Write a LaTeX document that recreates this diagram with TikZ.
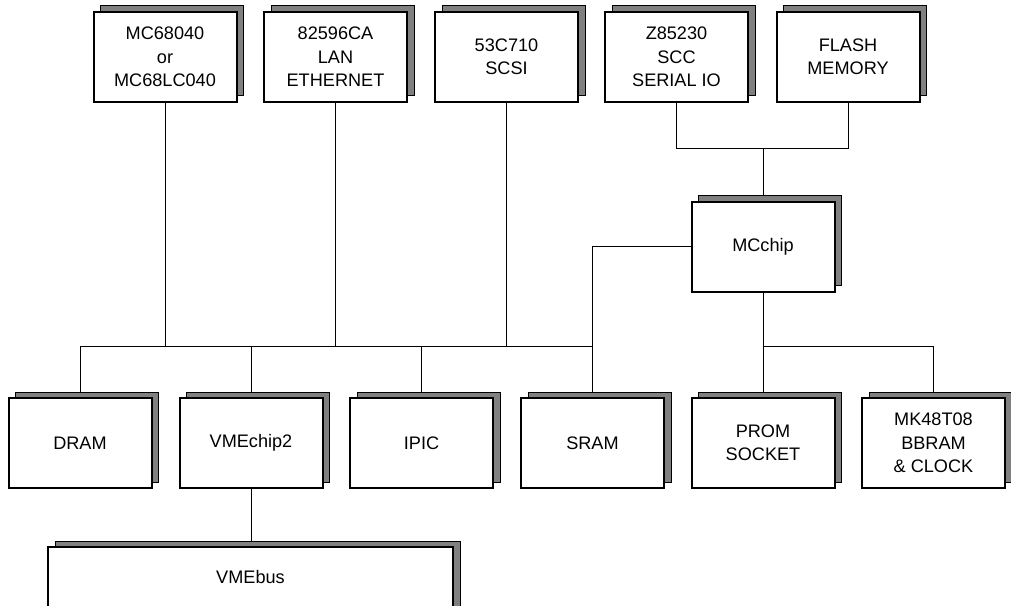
\documentclass[tikz,border=0pt]{standalone}
\usepackage{fontspec}
\setmainfont{Liberation Sans}
\usetikzlibrary{shadows,backgrounds}
\definecolor{shadowgray}{HTML}{808080}
\begin{document}
\begin{tikzpicture}[x=0.75pt,y=-0.75pt,
  blk/.style={draw=black, line width=1.5pt, fill=white,
    minimum width=107.25pt, minimum height=67.5pt, inner sep=0pt,
    align=center, font=\fontsize{13.6}{17.6}\selectfont,
    general shadow={shadow xshift=5.25pt, shadow yshift=4.5pt,
      fill=shadowgray, draw=black, line width=0.75pt}},
  wire/.style={draw=black, line width=0.75pt}]
\useasboundingbox (0,0) rectangle (1011,606);
\clip (0,0) rectangle (1011,606);
% top row
\node[blk] (cpu)   at (165,57)   {MC68040\\or\\MC68LC040};
\node[blk] (lan)   at (335.5,57) {82596CA\\LAN\\ETHERNET};
\node[blk] (scsi)  at (506.5,57) {53C710\\SCSI};
\node[blk] (scc)   at (676.5,57) {Z85230\\SCC\\SERIAL IO};
\node[blk] (flash) at (848,57)   {FLASH\\MEMORY};
% MCchip
\node[blk] (mcchip) at (763,247) {MCchip};
% bottom row
\node[blk] (dram)    at (80,443)    {DRAM};
\node[blk] (vmechip) at (251,443)   {VMEchip2};
\node[blk] (ipic)    at (421.5,443) {IPIC};
\node[blk] (sram)    at (592.5,443) {SRAM};
\node[blk] (prom)    at (763,443)   {PROM\\SOCKET};
\node[blk] (mk)      at (933.5,443) {MK48T08\\BBRAM\\\& CLOCK};
% VMEbus
\node[blk, minimum width=303.75pt] (vmebus) at (250.5,592) {};
\node[font=\fontsize{13.6}{17.6}\selectfont] (vmebuslbl) at (250.5,577) {VMEbus};
\coordinate (bus) at (0,346);
\coordinate (tb) at (0,149);
\begin{scope}[on background layer]
  \fill[white] (0,0) rectangle (1011,606);
  \draw[wire] (dram.north) -- (dram.north |- bus) -- (sram.north |- bus);
  \draw[wire] (cpu.south) -- (cpu.south |- bus);
  \draw[wire] (lan.south) -- (lan.south |- bus);
  \draw[wire] (scsi.south) -- (scsi.south |- bus);
  \draw[wire] (vmechip.north) -- (vmechip.north |- bus);
  \draw[wire] (ipic.north) -- (ipic.north |- bus);
  \draw[wire] (mcchip.west) -| (sram.north);
  \draw[wire] (scc.south) |- (flash.south |- tb) -- (flash.south);
  \draw[wire] (mcchip.north) -- (mcchip.north |- tb);
  \draw[wire] (mcchip.south) -- (prom.north);
  \draw[wire] (prom.north |- bus) -| (mk.north);
  \draw[wire] (vmechip.south) -- (vmebus.north -| vmechip.south);
\end{scope}
\end{tikzpicture}
\end{document}
